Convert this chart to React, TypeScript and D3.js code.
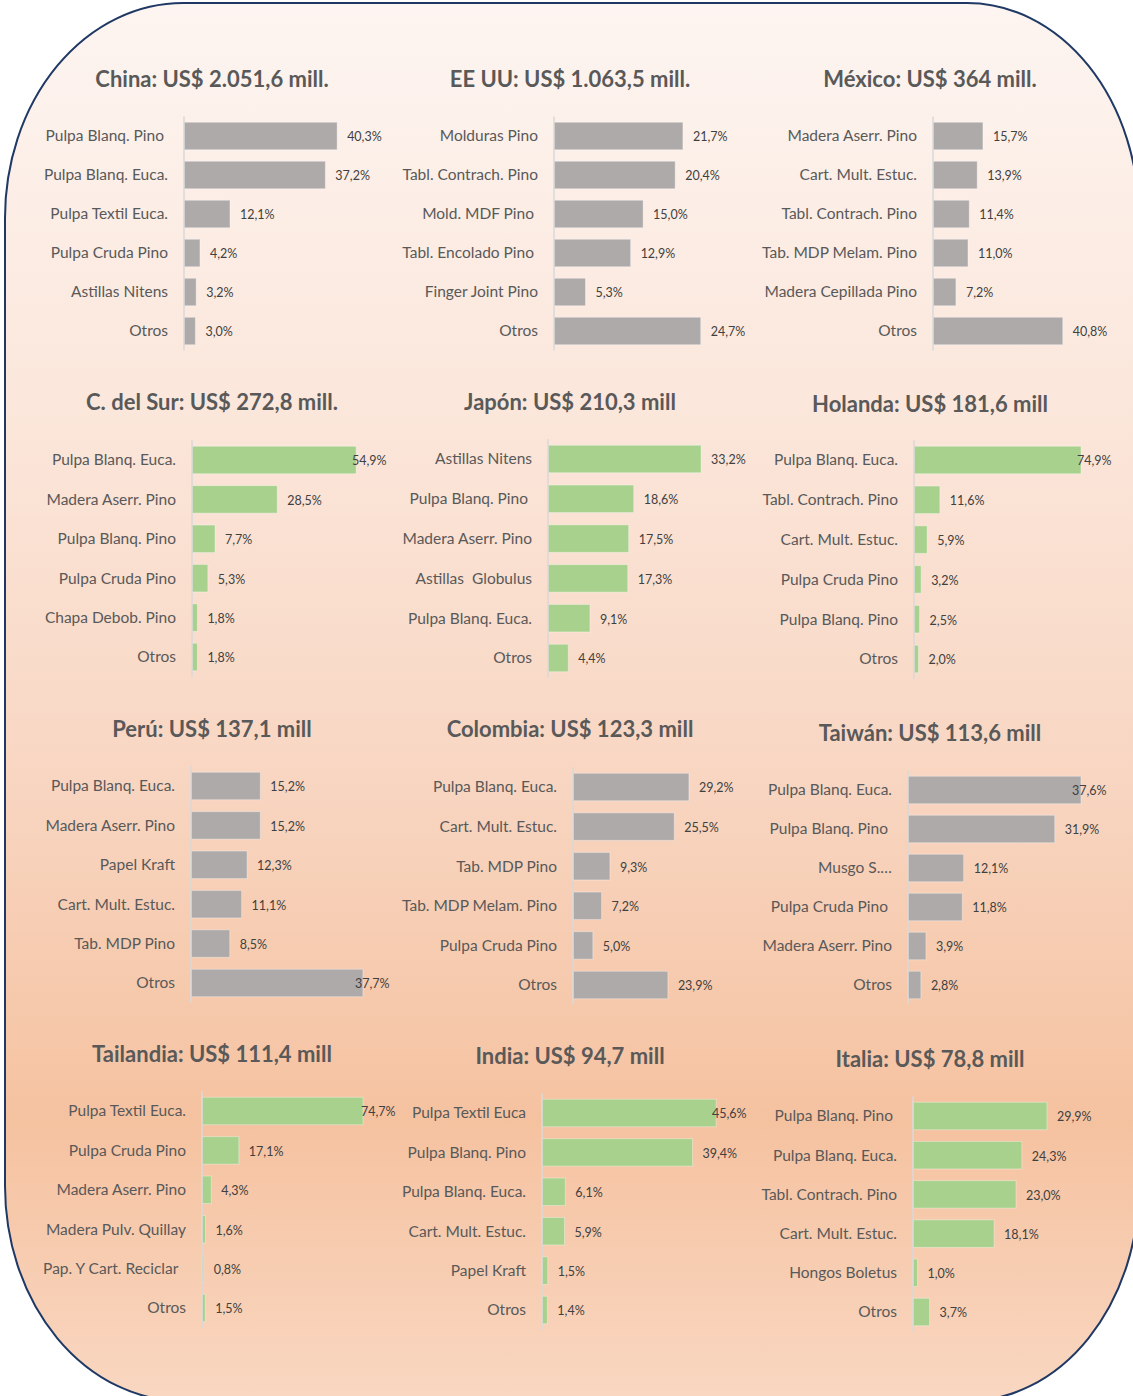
import React from "react";
import * as d3 from "d3";

// ---------- DATA ----------
const titles = [
  "China: US$ 2.051,6 mill.",
  "EE UU: US$ 1.063,5 mill.",
  "México: US$ 364 mill.",
  "C. del Sur: US$ 272,8 mill.",
  "Japón: US$ 210,3 mill",
  "Holanda: US$ 181,6 mill",
  "Perú: US$ 137,1 mill",
  "Colombia: US$ 123,3 mill",
  "Taiwán: US$ 113,6 mill",
  "Tailandia: US$ 111,4 mill",
  "India: US$ 94,7 mill",
  "Italia: US$ 78,8 mill",
];

const chinaCats = ["Pulpa Blanq. Pino ", "Pulpa Blanq. Euca.", "Pulpa Textil Euca.", "Pulpa Cruda Pino", "Astillas Nitens", "Otros"];
const chinaVals = [40.3, 37.2, 12.1, 4.2, 3.2, 3.0];

const eeuuCats = ["Molduras Pino", "Tabl. Contrach. Pino", "Mold. MDF Pino ", "Tabl. Encolado Pino ", "Finger Joint Pino", "Otros"];
const eeuuVals = [21.7, 20.4, 15.0, 12.9, 5.3, 24.7];

const mexicoCats = ["Madera Aserr. Pino", "Cart. Mult. Estuc.", "Tabl. Contrach. Pino", "Tab. MDP Melam. Pino", "Madera Cepillada Pino", "Otros"];
const mexicoVals = [15.7, 13.9, 11.4, 11.0, 7.2, 40.8];

const surCats = ["Pulpa Blanq. Euca.", "Madera Aserr. Pino", "Pulpa Blanq. Pino", "Pulpa Cruda Pino", "Chapa Debob. Pino", "Otros"];
const surVals = [54.9, 28.5, 7.7, 5.3, 1.8, 1.8];

const japonCats = ["Astillas Nitens", "Pulpa Blanq. Pino ", "Madera Aserr. Pino", "Astillas  Globulus", "Pulpa Blanq. Euca.", "Otros"];
const japonVals = [33.2, 18.6, 17.5, 17.3, 9.1, 4.4];

const holandaCats = ["Pulpa Blanq. Euca.", "Tabl. Contrach. Pino", "Cart. Mult. Estuc.", "Pulpa Cruda Pino", "Pulpa Blanq. Pino", "Otros"];
const holandaVals = [74.9, 11.6, 5.9, 3.2, 2.5, 2.0];

const peruCats = ["Pulpa Blanq. Euca.", "Madera Aserr. Pino", "Papel Kraft", "Cart. Mult. Estuc.", "Tab. MDP Pino", "Otros"];
const peruVals = [15.2, 15.2, 12.3, 11.1, 8.5, 37.7];

const colombiaCats = ["Pulpa Blanq. Euca.", "Cart. Mult. Estuc.", "Tab. MDP Pino", "Tab. MDP Melam. Pino", "Pulpa Cruda Pino", "Otros"];
const colombiaVals = [29.2, 25.5, 9.3, 7.2, 5.0, 23.9];

const taiwanCats = ["Pulpa Blanq. Euca.", "Pulpa Blanq. Pino ", "Musgo S.…", "Pulpa Cruda Pino ", "Madera Aserr. Pino", "Otros"];
const taiwanVals = [37.6, 31.9, 12.1, 11.8, 3.9, 2.8];

const tailandiaCats = ["Pulpa Textil Euca.", "Pulpa Cruda Pino", "Madera Aserr. Pino", "Madera Pulv. Quillay", "Pap. Y Cart. Reciclar  ", "Otros"];
const tailandiaVals = [74.7, 17.1, 4.3, 1.6, 0.8, 1.5];

const indiaCats = ["Pulpa Textil Euca", "Pulpa Blanq. Pino", "Pulpa Blanq. Euca.", "Cart. Mult. Estuc.", "Papel Kraft", "Otros"];
const indiaVals = [45.6, 39.4, 6.1, 5.9, 1.5, 1.4];

const italiaCats = ["Pulpa Blanq. Pino ", "Pulpa Blanq. Euca.", "Tabl. Contrach. Pino", "Cart. Mult. Estuc.", "Hongos Boletus", "Otros"];
const italiaVals = [29.9, 24.3, 23.0, 18.1, 1.0, 3.7];

const allCats = [chinaCats, eeuuCats, mexicoCats, surCats, japonCats, holandaCats, peruCats, colombiaCats, taiwanCats, tailandiaCats, indiaCats, italiaCats];
const allVals = [chinaVals, eeuuVals, mexicoVals, surVals, japonVals, holandaVals, peruVals, colombiaVals, taiwanVals, tailandiaVals, indiaVals, italiaVals];
const seriesKind = ["gray", "gray", "gray", "green", "green", "green", "gray", "gray", "gray", "green", "green", "green"];

// ---------- LAYOUT (positions / styles) ----------
// axisX, first band center, step, px per percent, title center x, title center y, max label x
const layout = [
  { axisX: 184, y0: 136, step: 39.0, ppp: 3.8, tx: 212, ty: 79, labelMax: 9999 },
  { axisX: 554, y0: 136, step: 39.0, ppp: 5.94, tx: 570, ty: 79, labelMax: 9999 },
  { axisX: 933, y0: 136, step: 39.0, ppp: 3.18, tx: 930, ty: 79, labelMax: 9999 },
  { axisX: 192, y0: 460, step: 39.4, ppp: 2.99, tx: 212, ty: 402, labelMax: 352 },
  { axisX: 548, y0: 459, step: 39.8, ppp: 4.61, tx: 570, ty: 402, labelMax: 9999 },
  { axisX: 914, y0: 460, step: 39.8, ppp: 2.23, tx: 930, ty: 404, labelMax: 1077 },
  { axisX: 191, y0: 786, step: 39.4, ppp: 4.56, tx: 212, ty: 729, labelMax: 355 },
  { axisX: 573, y0: 787, step: 39.6, ppp: 3.97, tx: 570, ty: 729, labelMax: 9999 },
  { axisX: 908, y0: 790, step: 39.0, ppp: 4.6, tx: 930, ty: 733, labelMax: 1072 },
  { axisX: 202, y0: 1111, step: 39.4, ppp: 2.155, tx: 212, ty: 1054, labelMax: 361 },
  { axisX: 542, y0: 1113, step: 39.4, ppp: 3.82, tx: 570, ty: 1056, labelMax: 712 },
  { axisX: 913, y0: 1116, step: 39.2, ppp: 4.48, tx: 930, ty: 1059, labelMax: 9999 },
];

const W = 1133;
const H = 1396;
const FONT = "Lato, 'Open Sans', sans-serif";
const colors: Record<string, string> = { gray: "#aeaaaa", green: "#a9d18e" };

function Panel({ idx }: { idx: number }) {
  const L = layout[idx];
  const cats = allCats[idx];
  const vals = allVals[idx];
  const domainMax = 100;
  const x = d3.scaleLinear().domain([0, domainMax]).range([L.axisX, L.axisX + L.ppp * domainMax]);
  const bandH = 27.5;
  const pad = 1 - bandH / L.step;
  const top = L.y0 - L.step / 2;
  const y = d3
    .scaleBand<string>()
    .domain(cats.map((_, i) => String(i)))
    .range([top, top + L.step * cats.length])
    .paddingInner(pad)
    .paddingOuter(pad / 2);
  const fill = colors[seriesKind[idx]];
  return (
    <g>
      <text
        x={L.tx}
        y={L.ty}
        dy="0.35em"
        textAnchor="middle"
        fontFamily={FONT}
        fontWeight={700}
        fontSize={22}
        fill="#595959"
      >
        {titles[idx]}
      </text>
      {cats.map((c, i) => {
        const yy = y(String(i))!;
        const xe = x(vals[i]);
        const lx = Math.min(xe + 10, L.labelMax);
        return (
          <g key={i}>
            <rect x={x(0)} y={yy} width={xe - x(0)} height={y.bandwidth()} fill={fill} stroke="#ffffff" strokeOpacity={0.35} strokeWidth={1} />
            <text
              x={L.axisX - 16}
              y={yy + y.bandwidth() / 2}
              dy="0.35em"
              textAnchor="end"
              fontFamily={FONT}
              fontSize={15.5}
              fill="#595959"
              style={{ whiteSpace: "pre" }}
            >
              {c}
            </text>
            <text
              x={lx}
              y={yy + y.bandwidth() / 2 + 1}
              dy="0.35em"
              textAnchor="start"
              fontFamily={FONT}
              fontSize={12.5}
              fill="#404040"
            >
              {d3.format(".1f")(vals[i]).replace(".", ",") + "%"}
            </text>
          </g>
        );
      })}
      <line x1={L.axisX} x2={L.axisX} y1={top} y2={top + L.step * cats.length} stroke="#d9d9d9" strokeWidth={1.5} />
    </g>
  );
}

export default function App() {
  const shapeX = 5, shapeY = 3, shapeR = 1139, shapeB = 1401;
  const rx = 172, ry = 215;
  const path = `M${shapeX + 178},${shapeY} L${shapeR - rx},${shapeY} A${rx},${ry} 0 0 1 ${shapeR},${shapeY + ry} L${shapeR},${shapeB - ry} A${rx},${ry} 0 0 1 ${shapeR - rx},${shapeB} L${shapeX + 178},${shapeB} A178,${ry} 0 0 1 ${shapeX},${shapeB - ry} L${shapeX},${shapeY + ry} A178,${ry} 0 0 1 ${shapeX + 178},${shapeY} Z`;
  return (
    <div style={{ position: "absolute", left: 0, top: 0, width: W, height: H, background: "#ffffff", overflow: "hidden" }}>
      <svg width={W} height={H} viewBox={`0 0 ${W} ${H}`} style={{ display: "block" }}>
        <defs>
          <linearGradient id="bg" x1="0" y1="0" x2="0" y2="1" gradientUnits="objectBoundingBox">
            <stop offset="0" stopColor="#fdf5f1" />
            <stop offset="0.3" stopColor="#fbe6da" />
            <stop offset="0.55" stopColor="#f8d6c2" />
            <stop offset="0.8" stopColor="#f5c2a0" />
            <stop offset="1" stopColor="#f9d7c1" />
          </linearGradient>
        </defs>
        <path d={path} fill="url(#bg)" stroke="#1f3864" strokeWidth={2} />
        {titles.map((_, i) => (
          <Panel key={i} idx={i} />
        ))}
      </svg>
    </div>
  );
}
